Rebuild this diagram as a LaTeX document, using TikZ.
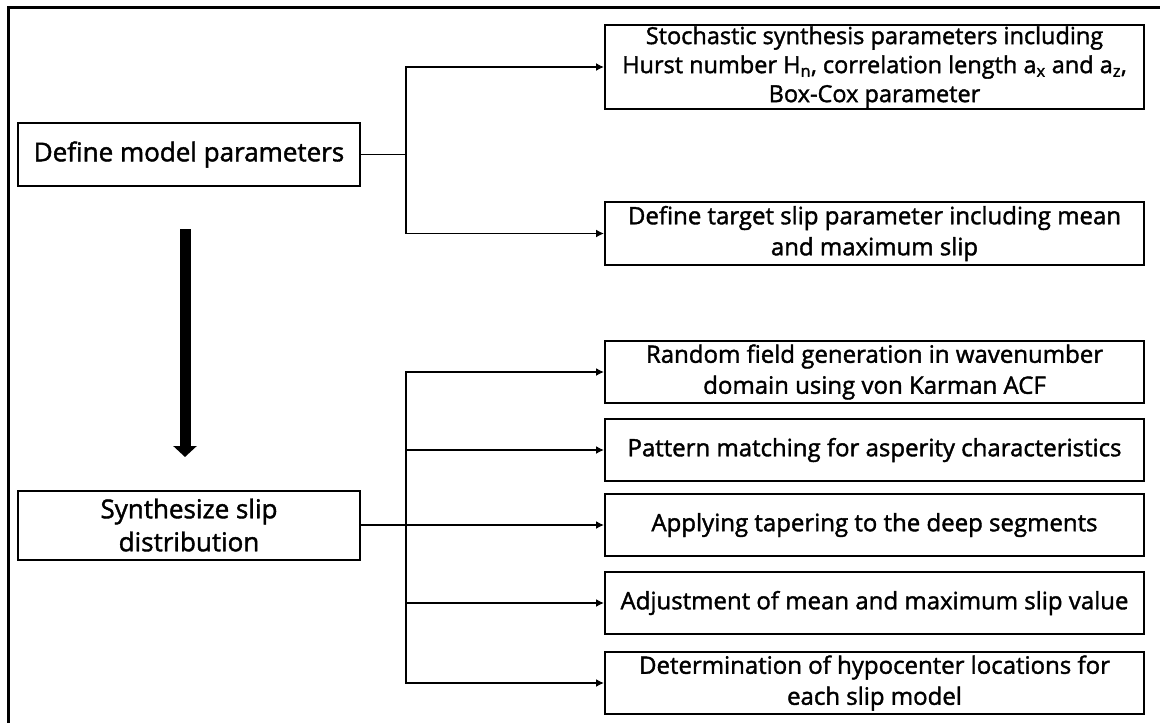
\documentclass[tikz,border=0pt]{standalone}
\usepackage{fontspec}
\setmainfont{Open Sans}
\newfontfamily\boxfont{Open Sans}[FakeBold=1.6]
\usepackage{tikz}
\usetikzlibrary{arrows.meta}
\tikzset{
  frame/.style={draw=black, line width=3pt},
  box/.style={draw=black, line width=2pt, align=center, inner xsep=2pt, inner ysep=0pt,
    minimum width=539pt, minimum height=62pt, font=\boxfont\fontsize{24}{31}\selectfont},
  mainbox/.style={box, minimum width=342pt, font=\boxfont\fontsize{26}{33}\selectfont},
  narrowbox/.style={box, font=\boxfont\fontsize{23.5}{29}\selectfont},
  conn/.style={draw=black, line width=1.5pt},
  arr/.style={conn, -{Latex[length=8pt,width=8pt]}},
  bigarr/.style={draw=black, line width=11pt, -{Triangle[length=11pt,width=23pt]}}
}

\begin{document}
\begin{tikzpicture}[x=1pt,y=-1pt]
  \useasboundingbox (0,0) rectangle (1160,723);
  \draw[frame] (8,7) rectangle (1175,740);

  \node[mainbox, minimum height=63pt] (dmp) at (189,154.5) {Define model parameters};
  \node[narrowbox, minimum height=84pt] (ssp) at (874.5,67)
    {Stochastic synthesis parameters including\\
     Hurst number H\textsubscript{n}, correlation length a\textsubscript{x} and a\textsubscript{z},\\
     Box-Cox parameter};
  \node[box, minimum height=63pt] (tsp) at (874.5,233.5)
    {Define target slip parameter including mean\\ and maximum slip};

  \node[mainbox, minimum height=69pt] (syn) at (189,525) {Synthesize slip\\ distribution};
  \node[box] (rfg) at (874.5,372) {Random field generation in wavenumber\\ domain using von Karman ACF};
  \node[box] (pmc) at (874.5,450) {Pattern matching for asperity characteristics};
  \node[box] (apt) at (874.5,525) {Applying tapering to the deep segments};
  \node[box] (adj) at (874.5,603) {Adjustment of mean and maximum slip value};
  \node[box] (hyp) at (874.5,683) {Determination of hypocenter locations for\\ each slip model};

  % upper branch
  \draw[conn] (dmp.east) -- ++(45,0) coordinate (j1);
  \draw[arr] (j1) |- (ssp.west);
  \draw[arr] (j1) |- (tsp.west);

  % lower branch
  \draw[conn] (syn.east) -- ++(45,0) coordinate (j2);
  \draw[arr] (j2) |- (rfg.west);
  \draw[arr] (j2) |- (pmc.west);
  \draw[arr] (syn.east) -- (apt.west);
  \draw[arr] (j2) |- (adj.west);
  \draw[arr] (j2) |- (hyp.west);

  \coordinate (bigtop) at (185,229);
  \coordinate (bigtip) at (185,457);
  \draw[bigarr] (bigtop) -- (bigtip);
\end{tikzpicture}
\end{document}
